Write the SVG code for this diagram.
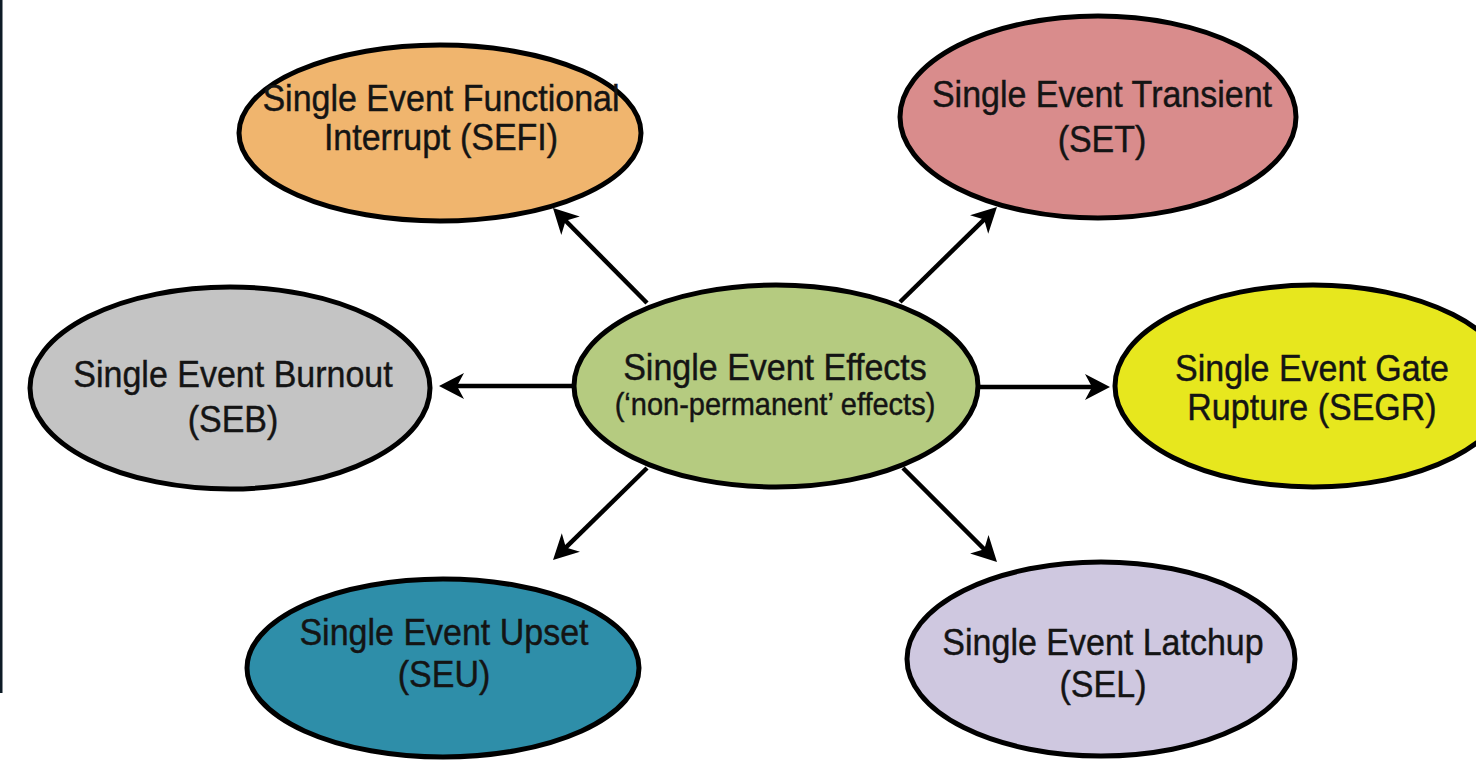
<svg xmlns="http://www.w3.org/2000/svg" width="1476" height="760" viewBox="0 0 1476 760">
<style>
  .node { stroke: #000; stroke-width: 5; }
  .t { font-family: "Liberation Sans", Arial, sans-serif; font-size: 34px; fill: #141414; text-anchor: middle; stroke: #141414; stroke-width: 0.4; }
  .s { font-size: 29px; }
  .conn line { stroke: #000; stroke-width: 4.5; marker-end: url(#arr); }
</style>
<defs>
  <marker id="arr" markerUnits="userSpaceOnUse" markerWidth="28" markerHeight="30" viewBox="-26 -15 28 30" refX="-12" refY="0" orient="auto">
    <path d="M0,0 L-25,-13 L-18,0 L-25,13 Z" fill="#000"/>
  </marker>
</defs>
<rect width="1476" height="760" fill="#fff"/>
<rect x="0" y="0" width="2.5" height="693" fill="#0d1b26"/>

<g id="n-sefi">
  <ellipse class="node" cx="440" cy="133" rx="201" ry="88" fill="#F0B56E"/>
  <text class="t" transform="translate(441,111) scale(1,1.1)">Single Event Functional</text>
  <text class="t" transform="translate(441,150) scale(1,1.1)">Interrupt (SEFI)</text>
</g>
<g id="n-set">
  <ellipse class="node" cx="1098" cy="117" rx="198" ry="101" fill="#D98C8C"/>
  <text class="t" transform="translate(1102,107) scale(1,1.1)">Single Event Transient</text>
  <text class="t" transform="translate(1102,152) scale(1,1.1)">(SET)</text>
</g>
<g id="n-seb">
  <ellipse class="node" cx="230" cy="388" rx="200" ry="101" fill="#C4C4C4"/>
  <text class="t" transform="translate(233,387) scale(1,1.1)">Single Event Burnout</text>
  <text class="t" transform="translate(233,432) scale(1,1.1)">(SEB)</text>
</g>
<g id="n-see">
  <ellipse class="node" cx="776" cy="386" rx="202" ry="101" fill="#B5CB80"/>
  <text class="t" transform="translate(775,380) scale(1,1.1)">Single Event Effects</text>
  <text class="t s" transform="translate(775,415) scale(1,1.1)">(‘non-permanent’ effects)</text>
</g>
<g id="n-segr">
  <ellipse class="node" cx="1313" cy="386" rx="198" ry="101" fill="#E7E71E"/>
  <text class="t" transform="translate(1312,381) scale(1,1.1)">Single Event Gate</text>
  <text class="t" transform="translate(1312,420) scale(1,1.1)">Rupture (SEGR)</text>
</g>
<g id="n-seu">
  <ellipse class="node" cx="443" cy="668" rx="196" ry="89" fill="#2E8EA9"/>
  <text class="t" transform="translate(444,645) scale(1,1.1)">Single Event Upset</text>
  <text class="t" transform="translate(444,687) scale(1,1.1)">(SEU)</text>
</g>
<g id="n-sel">
  <ellipse class="node" cx="1101" cy="659" rx="194" ry="97" fill="#CFC8E0"/>
  <text class="t" transform="translate(1103,655) scale(1,1.1)">Single Event Latchup</text>
  <text class="t" transform="translate(1103,697) scale(1,1.1)">(SEL)</text>
</g>

<g id="connectors" class="conn">
  <line x1="647" y1="303" x2="561.4" y2="216.5"/>
  <line x1="900" y1="302" x2="988.4" y2="215.4"/>
  <line x1="574" y1="386" x2="451" y2="386"/>
  <line x1="978" y1="387" x2="1098" y2="387"/>
  <line x1="647" y1="468" x2="561.6" y2="551.6"/>
  <line x1="903" y1="468" x2="988.5" y2="553.5"/>
</g>
</svg>
